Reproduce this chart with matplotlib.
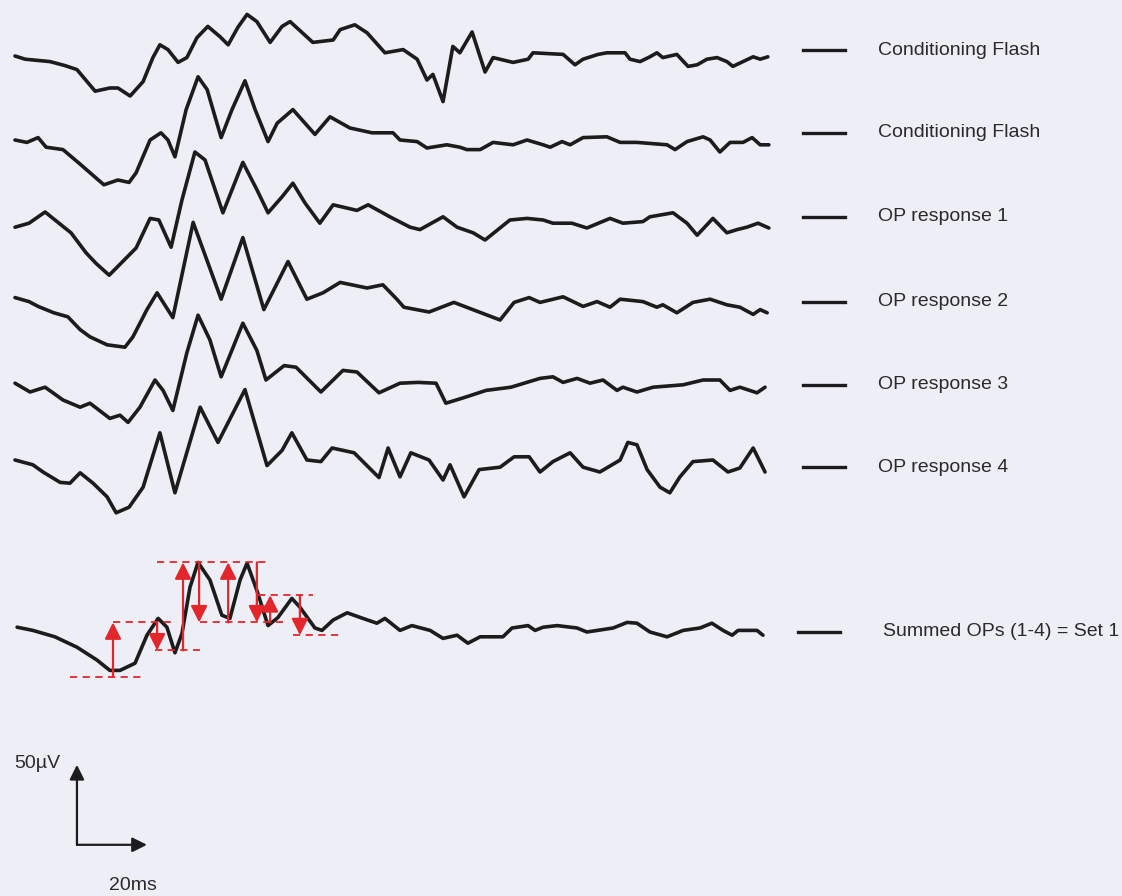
import matplotlib
matplotlib.use("Agg")
import matplotlib.pyplot as plt

# ERG traces: time (ms) and amplitude (uV) knots
t1 = [0, 2.9, 10, 14.3, 17.7, 22.9, 27.1, 29.4, 32.9, 36.6, 39.4, 41.4, 43.7, 46.6, 49.1, 52, 55.1, 58.6,
      60.9, 63.7, 66.3, 69.1, 72.9, 76.3, 78.6, 85.1, 90.9, 92.9, 97.1, 100.6, 105.7, 110.9, 114.9, 117.7,
      119.4, 122.3, 125.1, 127.1, 130.6, 134.3, 136.6, 142.3, 146.6, 148, 156.6, 160, 162.3, 166.6, 169.1,
      174.3, 175.7, 178.6, 181.4, 183.4, 185.1, 189.1, 192.3, 194.9, 197.7, 200.6, 203.4, 205.1, 208,
      210.9, 212.9, 215.1]
v1 = [1, -1, -2.5, -5, -7.5, -21, -19, -19, -24, -15, 0, 8, 5, -3, 0, 12.5, 19.5, 13, 8, 19, 27, 22.5,
      9.5, 19.5, 22.5, 9.5, 11, 17.5, 20.5, 15.5, 3, 5, -1, -14, -10.5, -27.5, 7, 3, 16, -9, 0, -3, -1,
      3, 2, -4.5, -1, 2, 3, 3, -1, -2.5, 0.5, 3, 0, 2, -5.5, -4.5, -1, 0, -2.5, -5.5, -2.5, 0.5, -1, 0.5]

t2 = [0, 3.4, 6.6, 8.9, 13.7, 18.3, 25.4, 29.4, 32.6, 34.6, 38.6, 41.7, 43.7, 45.7, 48.9, 52.3, 54.9,
      58.9, 62, 65.7, 68.6, 72.3, 74.9, 79.4, 85.7, 90, 95.7, 102, 108, 110, 114.9, 117.7, 123.4, 127.1,
      129.1, 132.9, 136.6, 142.3, 146.3, 150.9, 152.9, 156.3, 158.6, 162.3, 169.1, 172.9, 177.7, 186.3,
      188.6, 192, 196.6, 198.6, 201.4, 204.3, 208, 210.6, 212.9, 215.4]
v2 = [0.5, -1, 2, -4, -5.5, -14, -27.5, -24.5, -26, -20, 0.5, 5, 0.5, -10, 19.5, 40, 32, 2, 19.5, 37.5,
      19.5, -0.5, 11, 19.5, 4, 15, 8, 5, 5, 0.5, -0.5, -4.5, -2.5, -4, -5.5, -5.5, -1, -2.5, 0.5, -2.5,
      -4, -0.5, -2.5, 2, 2.5, -1, -1, -2.5, -5.5, -0.5, 2.5, 0.5, -7, -1, -1, 2, -2.5, -2.5]

t3 = [0, 4, 8.6, 12, 16, 20.3, 23.1, 26.9, 30.3, 34.6, 38.6, 41.1, 44.6, 47.7, 51.4, 54.3, 59.4, 65.1,
      69.1, 72.3, 76.3, 79.4, 82.9, 87.1, 90.9, 97.7, 100.9, 107.1, 112.9, 115.7, 122.3, 126.3, 130.9,
      134.3, 141.4, 146.3, 150.9, 153.7, 159.1, 163.4, 170, 173.7, 179.4, 181.4, 188, 192, 194.9, 199.4,
      203.4, 206.3, 209.1, 212.3, 215.4]
v3 = [0.5, 3, 10, 4, -3, -15.5, -22, -29.5, -22, -12.5, 6, 5, -12, 17.5, 47.5, 42.5, 9.5, 41, 24, 9.5,
      19.5, 28, 15.5, 3, 14.5, 11, 14.5, 7, 0.5, -1, 7, 0.5, -3, -7.5, 5, 6, 5, 3, 3, 0, 6, 3, 4, 7, 9.5,
      3, -4.5, 6, -3, -1, 0.5, 3, 0]

t4 = [0, 4, 6.6, 11.1, 15.1, 18.6, 21.4, 26.3, 31.4, 33.7, 37.7, 40.6, 45.1, 50.9, 58.9, 65.1, 71.1, 78,
      83.4, 88, 92.9, 100.6, 105.1, 109.1, 111.1, 118.3, 125.4, 132.6, 138.6, 142.6, 146.9, 150, 156.6,
      162.3, 166.3, 170, 172.9, 179.4, 183.4, 185.1, 189.1, 193.7, 198.6, 203.4, 207.1, 210.9, 212.9,
      214.9]
v4 = [0, -2.5, -5.5, -9.5, -12, -20, -24.5, -29.5, -31, -24.5, -7.5, 3, -12.5, 47, -1, 37.5, -7.5, 22.5,
      -1, 3, 9.5, 6, 8, -1, -6, -9, -3, -9, -14, -3, 0, -3, 0.5, -5.5, -2.5, -6, -1, -2.5, -6, -4.5, -9.5,
      -3, -1, -4.5, -6, -10.5, -7.5, -9.5]

t5 = [0, 4.3, 8.6, 13.7, 18.6, 21.4, 27.1, 30, 32.3, 35.7, 40, 42.3, 45.1, 49.1, 52.3, 55.7, 58.9, 65.1,
      69.1, 71.7, 76.9, 80.3, 87.4, 93.7, 97.7, 104, 110, 115.1, 120.3, 123.1, 128.3, 134.6, 141.7, 150,
      153.7, 156.6, 160.6, 164.3, 168, 172, 173.7, 177.7, 182.3, 190.9, 196.6, 201.4, 204.3, 207.1, 212,
      214.3]
v5 = [0, -5.5, -2.5, -10.5, -15, -12.5, -22, -20, -24.5, -15, 2, -4.5, -17, 19, 42.5, 27, 4, 37.5, 20.5,
      2, 11, 10, -5.5, 8, 7, -6, 0, 0.5, 0, -12.5, -9, -4.5, -2.5, 3, 4, 0.5, 3, 0, 2, -4.5, -2.5, -5.5,
      -2.5, -1, 2, 2, -4.5, -2.5, -6, -2.5]

t6 = [0, 5.1, 8, 12.9, 15.7, 18.6, 22.3, 26.3, 28.9, 32.6, 36.6, 41.4, 45.7, 52.9, 58, 65.7, 72, 76.3,
      79.1, 83.4, 87.4, 90.6, 96.9, 104, 106.6, 110, 113.1, 118.3, 122.3, 124.3, 128.3, 132.6, 138.6,
      142.6, 146.9, 150, 153.7, 158.6, 162.3, 167.1, 172.9, 175.1, 177.7, 180.6, 184.3, 187.1, 190,
      193.7, 199.4, 203.7, 207.1, 210.9, 214.3]
v6 = [0, -3, -7.5, -14, -14.5, -8, -14.5, -23, -33, -29.5, -17, 17, -20.5, 33, 11, 44, -3.5, 6, 17, 0,
      -1, 7.5, 4.5, -11, 7.5, -10.5, 4.5, 0, -12.5, -3, -23, -6, -4.5, 2, 2, -7.5, -1, 4.5, -4.5, -7.5, 0,
      11, 9.5, -6, -17, -20.5, -10.5, -1, 0, -7.5, -5, 7.5, -7.5]

t_sum = [0.6, 5.1, 11.4, 17.7, 23.4, 27.1, 30, 34.3, 37.7, 40.9, 43.4, 45.7, 47.7, 50, 52.3, 55.7, 59.1,
         61.4, 64.3, 66.3, 69.1, 72.3, 75.1, 79.1, 81.4, 85.7, 87.7, 90.9, 94.9, 99.4, 103.4, 105.7, 110,
         113.4, 118.6, 122.3, 126.3, 129.4, 132.9, 139.4, 142, 146.6, 148.6, 150.9, 154.9, 160.6, 163.4,
         170.9, 174.9, 177.7, 181.4, 186.3, 190.9, 195.7, 199.1, 202.3, 204.9, 206.6, 212, 213.7]
v_sum = [0, -2, -6, -12.5, -20.5, -27, -27, -22.5, -5, 5.5, 0, -16, -4, 25, 40.5, 29.5, 7.5, 5.5, 29.5,
         40, 23, 1, 6, 18, 12.5, -0.5, -2, 4.5, 9, 5.5, 2.5, 5.5, -2, 1, -2, -7, -5, -10, -6, -6, -0.5,
         1, -2, 0, 1, -0.5, -3, -0.5, 3, 2.5, -3, -6, -2, -0.5, 2.5, -2, -5, -2, -2, -5]

trace_times = [t1, t2, t3, t4, t5, t6, t_sum]
trace_values = [v1, v2, v3, v4, v5, v6, v_sum]
trace_labels = ["Conditioning Flash", "Conditioning Flash", "OP response 1", "OP response 2",
                "OP response 3", "OP response 4", "Summed OPs (1-4) = Set 1"]

# a-wave / OP amplitude measurements on the summed trace (ms, from uV, to uV)
amp_times = [28, 40.6, 48, 52.6, 60.9, 69.1, 72.9, 81.4]
amp_from = [-31, 3, -14.5, 40.5, 3, 40.5, 3, 20]
amp_to = [3, -14.5, 40.5, 3, 40.5, 3, 20, -5]
guide_levels = [-31, 3, -14.5, 40.5, 3, 20, -5]
guide_start = [15.7, 28, 40, 40.6, 52.9, 69.4, 79.4]
guide_end = [36.3, 45.1, 52.9, 72.9, 77.7, 85.1, 92.9]

# layout (uV offsets of each trace and of its label)
offsets = [-36, -88, -142.5, -186, -239.5, -287.5, -392]
label_offsets = [-31.5, -83, -135.5, -188.5, -240.5, -292, -395]

bg = "#eeeef6"
ink = "#1c1c1c"
red = "#e3262b"

fig = plt.figure(figsize=(11.22, 8.96), dpi=100, facecolor=bg)
ax = fig.add_axes([0, 0, 1, 1])
ax.set_facecolor(bg)
ax.set_xlim(-15 / 3.5, 1107 / 3.5)
ax.set_ylim(-560, 0)
ax.axis("off")

for times, vals, off in zip(trace_times, trace_values, offsets):
    ax.plot(times, [v + off for v in vals], color=ink, lw=2.6,
            solid_joinstyle="round", solid_capstyle="round")

for i, (lab, yo) in enumerate(zip(trace_labels, label_offsets)):
    last = i == len(trace_labels) - 1
    x_text = 248.0 if last else 246.6
    x0 = 223.7 if last else 225.1
    ax.plot([x0, x0 + 12], [yo, yo], color=ink, lw=2.4)
    ax.text(x_text, yo, lab, fontsize=14, family="Liberation Sans", color="#2a2a2a",
            va="center", ha="left")

# red measurement guides
base = offsets[-1]
for lvl, a, b in zip(guide_levels, guide_start, guide_end):
    ax.plot([a, b], [lvl + base, lvl + base], color=red, lw=1.3, dashes=(4, 3))

for t, a, b in zip(amp_times, amp_from, amp_to):
    ax.annotate("", xy=(t, b + base), xytext=(t, a + base),
                arrowprops=dict(arrowstyle="-|>", color=red, lw=1.6, mutation_scale=25,
                                shrinkA=0, shrinkB=0))

# scale bar: 50 uV / 20 ms
sb_t, sb_v = 17.7, -528
ax.annotate("", xy=(sb_t, sb_v + 50), xytext=(sb_t, sb_v),
            arrowprops=dict(arrowstyle="-|>", color=ink, lw=1.6, mutation_scale=22,
                            shrinkA=0, shrinkB=0))
ax.annotate("", xy=(sb_t + 20, sb_v), xytext=(sb_t, sb_v),
            arrowprops=dict(arrowstyle="-|>", color=ink, lw=1.6, mutation_scale=22,
                            shrinkA=0, shrinkB=0))
ax.text(6.4, sb_v + 50.5, "50µV", fontsize=14, family="Liberation Sans", color="#2a2a2a",
        ha="center", va="center")
ax.text(33.7, sb_v - 25.5, "20ms", fontsize=14, family="Liberation Sans", color="#2a2a2a",
        ha="center", va="center")

fig.savefig("out.png", dpi=100, facecolor=bg)
